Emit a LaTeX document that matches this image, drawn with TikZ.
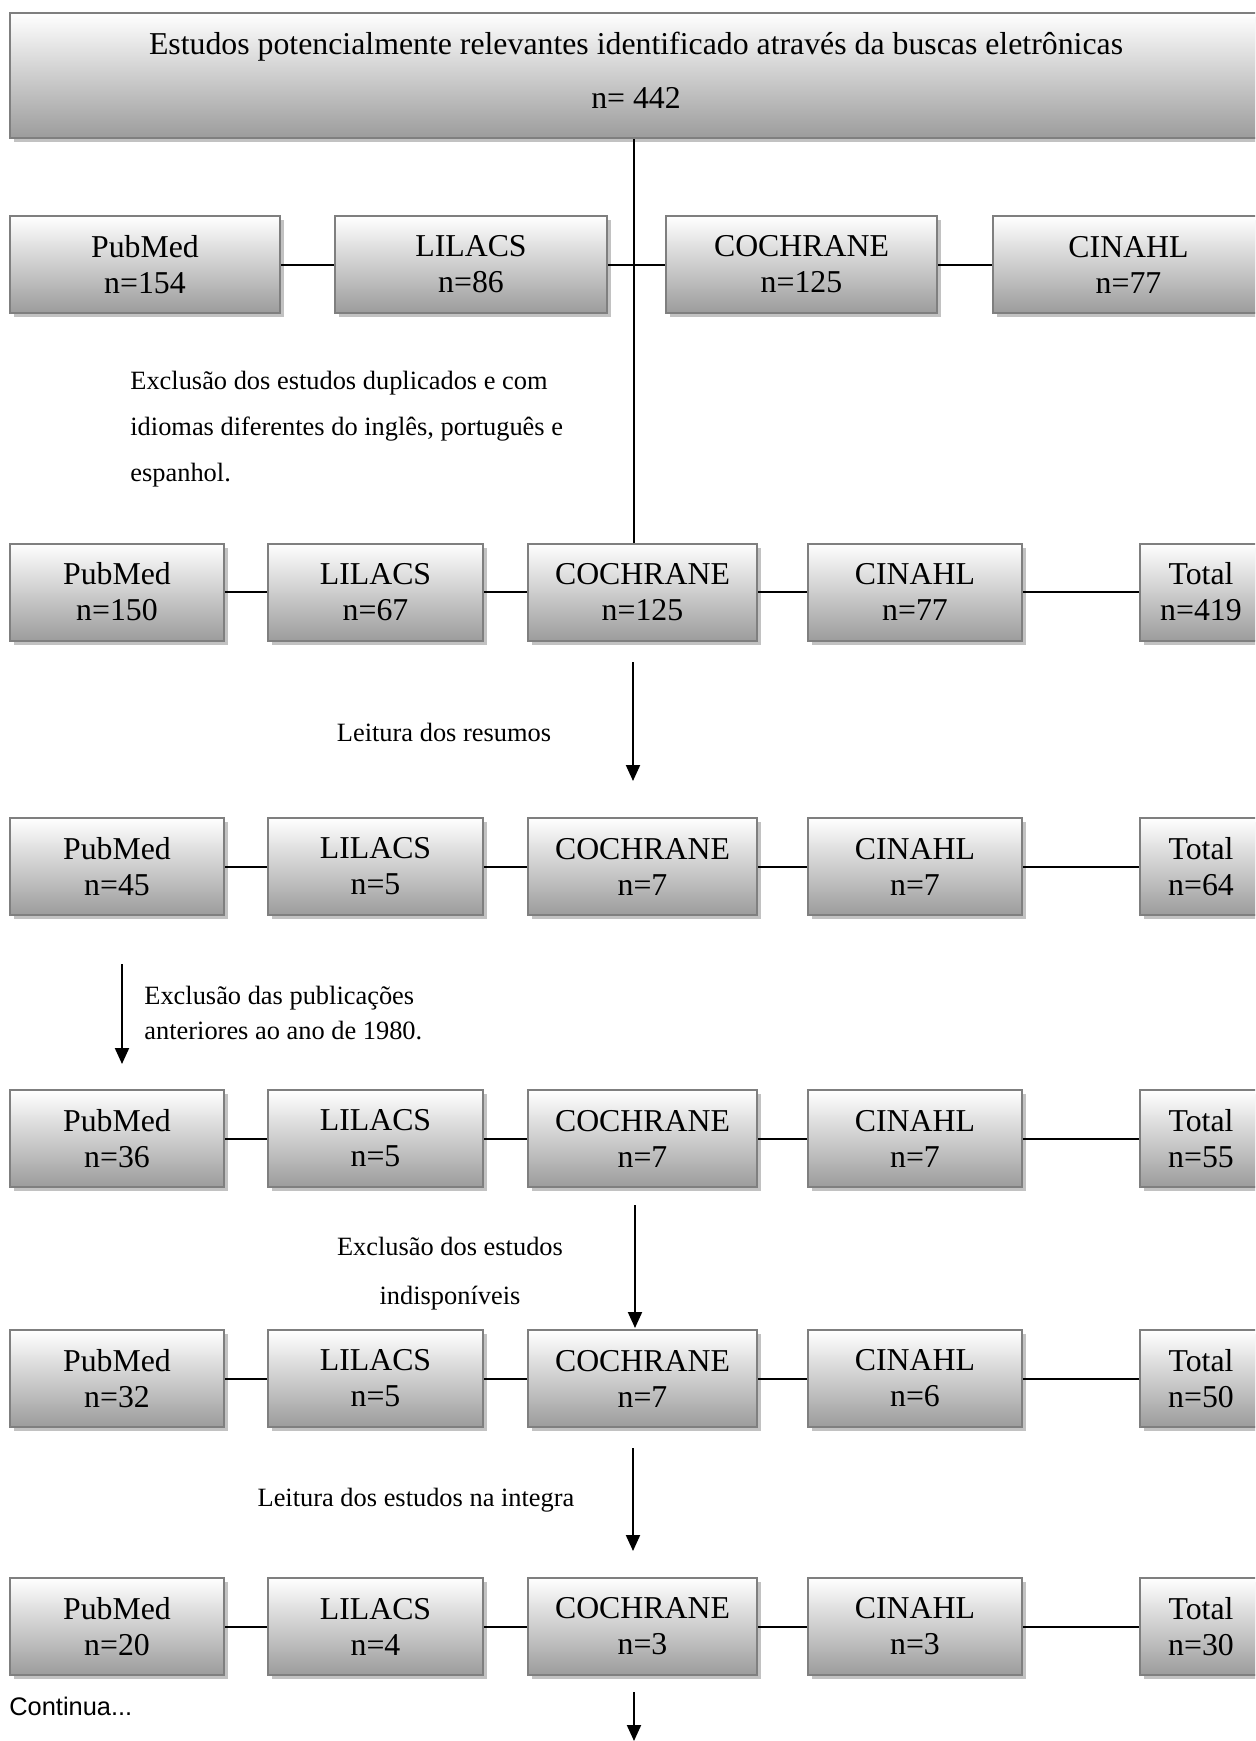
\documentclass[tikz,border=0pt]{standalone}
\usepackage{fontspec}
\setmainfont{Liberation Serif}
\newfontfamily\arialfont{Liberation Sans}
\usetikzlibrary{arrows.meta,shadows}
\definecolor{BoxEdge}{HTML}{7F7F7F}
\definecolor{BoxLow}{HTML}{9C9C9C}
\definecolor{Shade}{HTML}{C2C2C2}

\begin{document}
\begin{tikzpicture}[x=.5pt,y=-.5pt,
  dbox/.style={draw=BoxEdge,line width=1pt,top color=white,bottom color=BoxLow,
    drop shadow={shadow xshift=2pt,shadow yshift=-2pt,fill=Shade,opacity=1},
    minimum height=48.5pt,inner sep=0pt,align=center,font=\fontsize{15.9}{18}\selectfont},
  note/.style={inner sep=0pt,font=\fontsize{13.2}{23}\selectfont},
  link/.style={line width=1pt},
  flow/.style={line width=1pt,-{Triangle[width=7pt,length=8pt]}}]
  \useasboundingbox (0,0) rectangle (1255,1741);
  \clip (0,0) rectangle (1255,1741);
  % busca inicial
  \node[dbox,minimum width=626pt,minimum height=62.5pt,text depth=5pt] (busca) at (636,75.5)
    {Estudos potencialmente relevantes identificado através da buscas eletrônicas\\[9pt]n= 442};
  \coordinate (vx) at (634,0);
  % bases
  \node[dbox,minimum width=135pt] (pub1) at (145,264.5) {PubMed\\n=154};
  \node[dbox,minimum width=136pt] (lil1) at (471,264.5) {LILACS\\n=86};
  \node[dbox,minimum width=135.5pt] (coc1) at (801.5,264.5) {COCHRANE\\n=125};
  \node[dbox,minimum width=135.5pt] (cin1) at (1128.5,264.5) {CINAHL\\n=77};
  \draw[link] (pub1) -- (lil1) (lil1) -- (coc1) (coc1) -- (cin1);
  \foreach \r/\y/\np/\nl/\nc/\nh/\nt in {2/592/150/67/125/77/419,3/866.5/45/5/7/7/64,
      4/1138.5/36/5/7/7/55,5/1378.5/32/5/7/6/50,6/1626.5/20/4/3/3/30}{
    \node[dbox,minimum width=107pt] (pub\r) at (117,\y) {PubMed\\n=\np};
    \node[dbox,minimum width=107.5pt] (lil\r) at (375.5,\y) {LILACS\\n=\nl};
    \node[dbox,minimum width=114.5pt] (coc\r) at (642.5,\y) {COCHRANE\\n=\nc};
    \node[dbox,minimum width=107pt] (cin\r) at (915,\y) {CINAHL\\n=\nh};
    \node[dbox,minimum width=61pt] (tot\r) at (1201,\y) {Total\\n=\nt};
    \draw[link] (pub\r) -- (lil\r) (lil\r) -- (coc\r) (coc\r) -- (cin\r) (cin\r) -- (tot\r);
  }
  \draw[link] (busca.south -| vx) -- (coc2.north -| vx);
  % etapas
  \node[note,anchor=west,align=left] (dupl) at (130,429)
    {Exclusão dos estudos duplicados e com\\idiomas diferentes do inglês, português e\\espanhol.};
  \node[note] (resumo) at (444,732) {Leitura dos resumos};
  \node[note,anchor=west,align=left,font=\fontsize{13.2}{17.5}\selectfont] (ano) at (144,1013.5)
    {Exclusão das publicações\\anteriores ao ano de 1980.};
  \node[note,align=center,font=\fontsize{13.2}{24.5}\selectfont] (indisp) at (450,1273.5)
    {Exclusão dos estudos\\indisponíveis};
  \node[note] (integra) at (416,1500) {Leitura dos estudos na integra};
  \node[inner sep=0pt,anchor=west,font=\arialfont\fontsize{12.7}{15}\selectfont] (cont) at (9,1706) {Continua...};
  \coordinate (s2) at (633,662);  \coordinate (e2) at (633,781);
  \coordinate (s3) at (122,964);  \coordinate (e3) at (122,1064);
  \coordinate (s4) at (635,1205); \coordinate (e4) at (635,1328);
  \coordinate (s5) at (633,1448); \coordinate (e5) at (633,1551);
  \coordinate (s6) at (634,1692); \coordinate (e6) at (634,1741);
  \foreach \k in {2,...,6}
    \draw[flow] (s\k) -- (e\k);
\end{tikzpicture}
\end{document}
